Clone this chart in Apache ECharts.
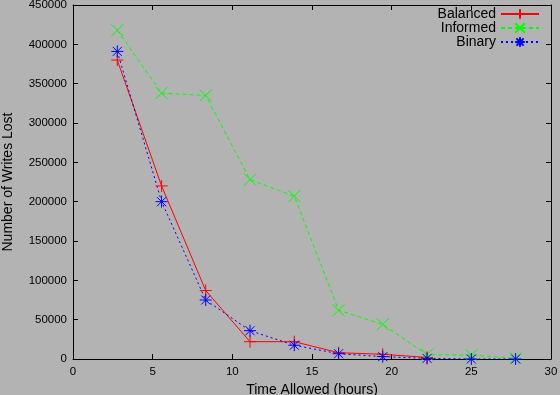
<!DOCTYPE html>
<html><head><meta charset="utf-8">
<script src="https://cdn.jsdelivr.net/npm/echarts@6/dist/echarts.min.js"></script>
<style>html,body{margin:0;padding:0;background:#b3b3b3}#c{width:560px;height:395px}</style>
</head><body><div id="c"></div>
<script>
const hours = [2.78, 5.56, 8.33, 11.11, 13.89, 16.67, 19.44, 22.22, 25.0, 27.78];
const balanced = [380000, 220000, 87000, 22000, 22000, 8000, 6000, 2000];
const informed = [418000, 338000, 335000, 228000, 207000, 62000, 44000, 5500, 5000, 1000];
const binary = [391000, 200000, 75000, 36000, 17500, 6700, 3000, 800, 0, 0];
const xTicks = [0, 5, 10, 15, 20, 25, 30];
const yTicks = [0, 50000, 100000, 150000, 200000, 250000, 300000, 350000, 400000, 450000];
const seriesNames = ['Balanced', 'Informed', 'Binary'];

const PLUS = 'path://M0,6L12,6M6,0L6,12';
const CROSS = 'path://M0,0L12,12M12,0L0,12';
const STAR = 'path://M0,6L12,6M6,0L6,12M1.5,1.5L10.5,10.5M10.5,1.5L1.5,10.5';
const font = 'Liberation Sans';

function pairs(v) { return v.map((y, i) => [hours[i], y]); }
function mk(name, data, color, sym, type) {
  return {
    name, type: 'line', data: pairs(data), symbol: sym, symbolSize: 12,
    showSymbol: true, animation: false,
    itemStyle: { color: 'rgba(0,0,0,0)', borderColor: color, borderWidth: 1 },
    lineStyle: { color, width: 1, type },
    emphasis: { disabled: true }
  };
}

const chart = echarts.init(document.getElementById('c'), null, { renderer: 'canvas' });
chart.setOption({
  backgroundColor: '#b3b3b3',
  animation: false,
  grid: { left: 73, right: 9, top: 5, bottom: 36, containLabel: false, outerBoundsMode: 'none' },
  legend: {
    orient: 'vertical', right: 20, top: 7, align: 'right',
    itemWidth: 38, itemHeight: 12, itemGap: 0, padding: 0,
    textStyle: { fontFamily: font, fontSize: 14, color: '#000', lineHeight: 13 },
    data: seriesNames.map(n => ({ name: n }))
  },
  xAxis: [{
    type: 'value', min: xTicks[0], max: xTicks[xTicks.length - 1], interval: 5,
    name: 'Time Allowed (hours)', nameLocation: 'middle', nameGap: 18,
    nameTextStyle: { fontFamily: font, fontSize: 14, color: '#000' },
    axisLine: { onZero: false, lineStyle: { color: '#000', width: 1 } },
    axisTick: { inside: true, length: 5, lineStyle: { color: '#000' } },
    axisLabel: { fontFamily: font, fontSize: 11.5, color: '#000', margin: 7, formatter: v => String(v) },
    splitLine: { show: false }
  }, {
    type: 'value', position: 'top', min: 0, max: 30, interval: 5,
    axisLine: { onZero: false, lineStyle: { color: '#000', width: 1 } },
    axisTick: { inside: true, length: 5, lineStyle: { color: '#000' } },
    axisLabel: { show: false }, splitLine: { show: false }
  }],
  yAxis: [{
    type: 'value', min: yTicks[0], max: yTicks[yTicks.length - 1], interval: 50000,
    name: 'Number of Writes Lost', nameLocation: 'middle', nameGap: 58,
    nameTextStyle: { fontFamily: font, fontSize: 14, color: '#000' },
    axisLine: { show: true, onZero: false, lineStyle: { color: '#000', width: 1 } },
    axisTick: { show: true, inside: true, length: 5, lineStyle: { color: '#000' } },
    axisLabel: { fontFamily: font, fontSize: 11.5, color: '#000', margin: 6, formatter: v => String(v) },
    splitLine: { show: false }
  }, {
    type: 'value', position: 'right', min: 0, max: 450000, interval: 50000,
    axisLine: { show: true, onZero: false, lineStyle: { color: '#000', width: 1 } },
    axisTick: { show: true, inside: true, length: 5, lineStyle: { color: '#000' } },
    axisLabel: { show: false }, splitLine: { show: false }
  }],
  series: [
    mk(seriesNames[0], balanced, '#ff0000', PLUS, 'solid'),
    mk(seriesNames[1], informed, '#00ff00', CROSS, [4, 3]),
    mk(seriesNames[2], binary, '#0000ff', STAR, [2, 3])
  ]
});
</script></body></html>
